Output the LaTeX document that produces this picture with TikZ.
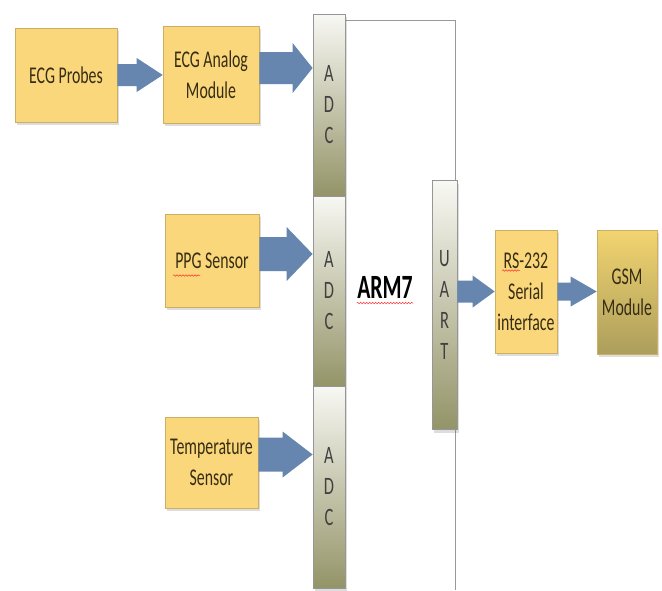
\documentclass[tikz,border=0pt]{standalone}
\usepackage{fontspec}
\newfontfamily\boxfont[FakeStretch=0.66]{Carlito}
\newfontfamily\stripfont[FakeStretch=0.66]{Carlito}
\newfontfamily\armfont[FakeStretch=0.64]{Carlito}
\usetikzlibrary{shadows,calc,decorations.pathmorphing}
\definecolor{boxyellow}{RGB}{250,215,122}
\definecolor{boxedge}{RGB}{205,175,100}
\definecolor{arrowblue}{RGB}{102,134,176}
\definecolor{stripgray}{RGB}{150,150,150}
\definecolor{striptop}{RGB}{248,248,244}
\definecolor{stripbot}{RGB}{148,148,104}
\definecolor{gsmtop}{RGB}{242,212,112}
\definecolor{gsmbot}{RGB}{172,158,92}
\definecolor{txt}{RGB}{55,45,20}
% horizontal block arrow: start, end, shaft half width, head half width, head length
\newcommand{\blockarrow}[5]{%
  \fill[arrowblue] let \p1=(#1), \p2=(#2) in
    (\x1,\y1+#3) -- (\x2-#5,\y1+#3) -- (\x2-#5,\y1+#4) -- (\x2,\y1)
    -- (\x2-#5,\y1-#4) -- (\x2-#5,\y1-#3) -- (\x1,\y1-#3) -- cycle;}
\begin{document}
\begin{tikzpicture}[x=1pt,y=-1pt,
  softshadow/.style={drop shadow={shadow xshift=2pt,shadow yshift=-3pt,opacity=0.22,fill=black!60}},
  blockbox/.style={draw=boxedge, line width=0.6pt, fill=boxyellow, softshadow, inner sep=0pt,
    align=center, text=txt, font=\boxfont\fontsize{24}{31}\selectfont},
  gsmbox/.style={blockbox, top color=gsmtop, bottom color=gsmbot},
  strip/.style={draw=stripgray, line width=0.8pt, top color=striptop, bottom color=stripbot,
    softshadow, inner sep=0pt, align=center, text=black!75,
    font=\stripfont\fontsize{25}{31}\selectfont},
  armline/.style={draw=black!40, line width=0.8pt},
  spell/.style={draw=red!80, line width=0.5pt, decorate,
    decoration={snake, segment length=3pt, amplitude=0.8pt}}
]
\useasboundingbox (0,0) rectangle (662,590);
\fill[white] (0,0) rectangle (662,590);

% ARM7 outline
\coordinate (armtl) at (345,20);
\coordinate (armtr) at (455,20);
\coordinate (armbr) at (455,590);
\draw[armline] (armtl) -- (armtr) -- (armbr);

% input boxes
\node[blockbox, minimum width=102pt, minimum height=94pt] (probes) at (66,75) {ECG Probes};
\node[blockbox, minimum width=96pt, minimum height=97pt] (analog) at (211,74.5) {ECG Analog\\Module};
\node[blockbox, minimum width=94pt, minimum height=93pt] (ppg) at (212,260.5) {PPG Sensor};
\node[blockbox, minimum width=93pt, minimum height=91pt] (temp) at (211.5,462.5) {Temperature\\Sensor};

% ADC / UART strips
\node[strip, minimum width=32pt, minimum height=182pt] (adc1) at (329,105) {A\\D\\C};
\node[strip, minimum width=32pt, minimum height=190pt] (adc2) at (329,291) {A\\D\\C};
\node[strip, minimum width=32pt, minimum height=202pt] (adc3) at (329,487) {A\\D\\C};
\node[strip, minimum width=25pt, minimum height=249pt] (uart) at (444.5,305) {U\\A\\R\\T};

\node[font=\armfont\bfseries\fontsize{34}{36}\selectfont, text=black] (arm) at (385,287) {ARM7};

% output boxes
\node[blockbox, minimum width=62pt, minimum height=123pt] (rs) at (526,291.5) {RS-232\\Serial\\interface};
\node[gsmbox, minimum width=60pt, minimum height=124pt] (gsm) at (627,292) {GSM\\Module};

% arrows
\blockarrow{probes.east}{analog.west}{11pt}{17pt}{26pt}
\blockarrow{$(analog.east)+(0,-6.5)$}{$(analog.east -| adc1.west)+(0,-6.5)$}{16pt}{25pt}{20pt}
\blockarrow{$(ppg.east)+(0,-6.5)$}{$(ppg.east -| adc2.west)+(0,-6.5)$}{17pt}{27pt}{26pt}
\blockarrow{$(temp.east)+(0,-8)$}{$(temp.east -| adc3.west)+(0,-8)$}{17pt}{23pt}{30pt}
\blockarrow{rs.west -| uart.east}{rs.west}{11pt}{16pt}{22pt}
\blockarrow{rs.east}{gsm.west}{9pt}{15pt}{26pt}

% spell-check underlines
\draw[spell] ($(ppg.center)+(-39,15)$) -- ($(ppg.center)+(-12,15)$);
\draw[spell] ($(arm.base west)+(3,5)$) -- ($(arm.base east)+(-3,5)$);
\draw[spell] ($(rs.center)+(-24,-21)$) -- ($(rs.center)+(-6,-21)$);
\end{tikzpicture}
\end{document}
